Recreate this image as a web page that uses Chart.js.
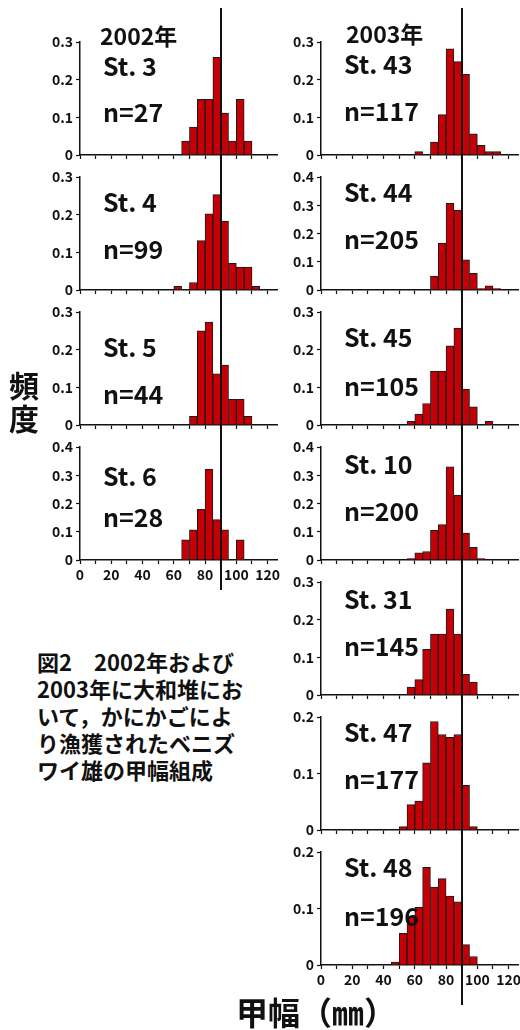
<!DOCTYPE html>
<html>
<head>
<meta charset="utf-8">
<script src="https://cdn.jsdelivr.net/npm/chart.js@4.4.0/dist/chart.umd.min.js"></script>
<style>
  html, body { margin: 0; padding: 0; background: #fff; }
  #fig {
    position: relative; width: 520px; height: 1030px; overflow: hidden; background: #fff;
    font-family: 'Noto Sans CJK JP', sans-serif; font-weight: bold; color: #111;
  }
  #fig canvas { position: absolute; }
  .txt { position: absolute; white-space: nowrap; z-index: 2; }
  .st { font-size: 25px; line-height: 25px; }
  .year { font-size: 23px; line-height: 23px; }
  .caption { font-size: 22px; line-height: 27px; }
  .ytitle { font-size: 30px; line-height: 30px; writing-mode: vertical-rl; letter-spacing: 3px; }
  .xtitle { font-size: 32px; line-height: 32px; }
</style>
</head>
<body>
<div id="fig"></div>
<script>
// 5 mm carapace-width classes (lower edge, mm)
const binStarts = [45, 50, 55, 60, 65, 70, 75, 80, 85, 90, 95, 100, 105, 110];
const xTickValues = [0, 10, 20, 30, 40, 50, 60, 70, 80, 90, 100, 110, 120];
const xTickLabels = ['0', '20', '40', '60', '80', '100', '120'];
const yTicks02 = [0, 0.1, 0.2];
const yTicks03 = [0, 0.1, 0.2, 0.3];
const yTicks04 = [0, 0.1, 0.2, 0.3, 0.4];
const refWidth = 90; // vertical reference line (mm)

// 2002
const st3  = [0, 0, 0, 0, 0.037, 0.074, 0.148, 0.148, 0.259, 0.111, 0.037, 0.148, 0.037, 0];
const st4  = [0, 0, 0, 0.010, 0, 0.020, 0.131, 0.202, 0.253, 0.182, 0.071, 0.061, 0.061, 0.010];
const st5  = [0, 0, 0, 0, 0, 0.023, 0.250, 0.273, 0.136, 0.159, 0.068, 0.068, 0.023, 0];
const st6  = [0, 0, 0, 0, 0.071, 0.107, 0.179, 0.321, 0.143, 0.107, 0, 0.071, 0, 0];
// 2003
const st43 = [0, 0, 0, 0.009, 0, 0.034, 0.107, 0.282, 0.248, 0.214, 0.056, 0.026, 0.009, 0.009];
const st44 = [0, 0, 0, 0, 0, 0.049, 0.166, 0.307, 0.283, 0.107, 0.059, 0.005, 0.015, 0.005];
const st45 = [0, 0, 0.010, 0.029, 0.057, 0.143, 0.143, 0.210, 0.257, 0.095, 0.048, 0, 0.010, 0];
const st10 = [0, 0, 0.005, 0.025, 0.030, 0.105, 0.125, 0.330, 0.230, 0.095, 0.045, 0.005, 0, 0];
const st31 = [0, 0, 0.021, 0.041, 0.121, 0.162, 0.162, 0.228, 0.162, 0.055, 0.034, 0, 0, 0];
const st47 = [0, 0.006, 0.045, 0.051, 0.119, 0.192, 0.169, 0.164, 0.169, 0.079, 0.006, 0, 0, 0];
const st48 = [0.005, 0.056, 0.087, 0.102, 0.173, 0.138, 0.153, 0.122, 0.112, 0.036, 0.015, 0, 0, 0];

const yearLabels = ['2002年', '2003年'];
const captionLines = ['図2　2002年および', '2003年に大和堆にお', 'いて，かにかごによ', 'り漁獲されたベニズ', 'ワイ雄の甲幅組成'];
const yTitle = '頻度';
const xTitle = '甲幅（㎜）';

// panel layout: column, row, series, station, n, y range, label positions
const panels = [
  { col: 0, row: 0, freq: st3,  name: 'St. 3',  n: 27,  yMax: 0.3, yTicks: yTicks03, stY: 57,  nY: 103 },
  { col: 0, row: 1, freq: st4,  name: 'St. 4',  n: 99,  yMax: 0.3, yTicks: yTicks03, stY: 193, nY: 240 },
  { col: 0, row: 2, freq: st5,  name: 'St. 5',  n: 44,  yMax: 0.3, yTicks: yTicks03, stY: 338, nY: 385 },
  { col: 0, row: 3, freq: st6,  name: 'St. 6',  n: 28,  yMax: 0.4, yTicks: yTicks04, stY: 467, nY: 508, showX: true, ext: 30 },
  { col: 1, row: 0, freq: st43, name: 'St. 43', n: 117, yMax: 0.3, yTicks: yTicks03, stY: 55,  nY: 102 },
  { col: 1, row: 1, freq: st44, name: 'St. 44', n: 205, yMax: 0.4, yTicks: yTicks04, stY: 183, nY: 230 },
  { col: 1, row: 2, freq: st45, name: 'St. 45', n: 105, yMax: 0.3, yTicks: yTicks03, stY: 328, nY: 377 },
  { col: 1, row: 3, freq: st10, name: 'St. 10', n: 200, yMax: 0.4, yTicks: yTicks04, stY: 455, nY: 502 },
  { col: 1, row: 4, freq: st31, name: 'St. 31', n: 145, yMax: 0.3, yTicks: yTicks03, stY: 590, nY: 637 },
  { col: 1, row: 5, freq: st47, name: 'St. 47', n: 177, yMax: 0.2, yTicks: yTicks02, stY: 723, nY: 770 },
  { col: 1, row: 6, freq: st48, name: 'St. 48', n: 196, yMax: 0.2, yTicks: yTicks02, stY: 858, nY: 907, showX: true, ext: 40 }
];

Chart.defaults.font.family = "'Noto Sans CJK JP', sans-serif";
Chart.defaults.font.weight = 'bold';
Chart.defaults.color = '#111';

const fig = document.getElementById('fig');

// vertical reference line, drawn through every panel so the column reads as one line
const refLinePlugin = {
  id: 'refLine',
  afterDatasetsDraw(chart, args, opts) {
    const { ctx, chartArea, scales } = chart;
    const px = Math.round(scales.x.getPixelForValue(refWidth));
    ctx.save();
    ctx.strokeStyle = '#111';
    ctx.lineWidth = 2;
    ctx.beginPath();
    ctx.moveTo(px, chartArea.top - 34);
    ctx.lineTo(px, chartArea.bottom + (opts.ext || 0));
    ctx.stroke();
    ctx.restore();
  }
};

function addText(cls, text, left, top) {
  const d = document.createElement('div');
  d.className = 'txt ' + cls;
  d.textContent = text;
  d.style.left = left + 'px';
  d.style.top = top + 'px';
  fig.appendChild(d);
  return d;
}

function makePanel(p) {
  const cv = document.createElement('canvas');
  const left = p.col === 0 ? 40 : 285;
  const width = p.col === 0 ? 245 : 243;
  const axisW = p.col === 0 ? 40 : 36;
  const padR = p.col === 0 ? 8 : 10;
  const top = 6 + 135 * p.row;
  cv.width = width; cv.height = 189;
  cv.style.left = left + 'px'; cv.style.top = top + 'px';
  cv.style.width = width + 'px'; cv.style.height = '189px';
  fig.appendChild(cv);

  const points = binStarts.map((b, i) => ({ x: b + 2.5, y: p.freq[i] > 0 ? p.freq[i] : null }));

  new Chart(cv, {
    type: 'bar',
    data: {
      datasets: [{
        data: points,
        backgroundColor: '#c40006',
        borderColor: '#1a1a1a',
        borderWidth: 1,
        barPercentage: 1,
        categoryPercentage: 1
      }]
    },
    options: {
      responsive: false,
      animation: false,
      devicePixelRatio: 1,
      layout: { padding: { top: 36, right: padR, left: 0, bottom: 0 } },
      plugins: {
        legend: { display: false },
        tooltip: { enabled: false },
        refLine: { ext: p.ext || 0 }
      },
      scales: {
        x: {
          type: 'linear', min: 0, max: 126, offset: false,
          afterBuildTicks: s => { s.ticks = xTickValues.map(v => ({ value: v })); },
          afterFit: s => { s.height = 40; },
          grid: { drawOnChartArea: false, drawTicks: true, tickLength: 4, tickColor: '#111', tickWidth: 1.2, offset: false },
          border: { display: true, color: '#111', width: 1.5 },
          ticks: {
            padding: 2, maxRotation: 0, autoSkip: false,
            font: { size: 14, weight: 'bold' }, color: '#111',
            callback: v => (p.showX && xTickLabels.includes(String(v))) ? String(v) : ''
          }
        },
        y: {
          min: 0, max: p.yMax,
          afterBuildTicks: s => { s.ticks = p.yTicks.map(v => ({ value: v })); },
          afterFit: s => { s.width = axisW; },
          grid: { drawOnChartArea: false, drawTicks: true, tickLength: 4, tickColor: '#111', tickWidth: 1.2 },
          border: { display: true, color: '#111', width: 1.5 },
          ticks: {
            padding: 3, font: { size: 14, weight: 'bold' }, color: '#111',
            callback: v => v === 0 ? '0' : Number(v).toFixed(1)
          }
        }
      }
    },
    plugins: [refLinePlugin]
  });

  const lx = p.col === 0 ? 103 : 344;
  addText('st', p.name, lx, p.stY - 4);
  addText('st', 'n=' + p.n, lx, p.nY - 4);
}

panels.forEach(makePanel);

addText('year', yearLabels[0], 100, 24);
addText('year', yearLabels[1], 346, 22);

const cap = document.createElement('div');
cap.className = 'txt caption';
cap.style.left = '37px';
cap.style.top = '648px';
captionLines.forEach((line, i) => {
  if (i) cap.appendChild(document.createElement('br'));
  cap.appendChild(document.createTextNode(line));
});
fig.appendChild(cap);

addText('ytitle', yTitle, 9, 371);
addText('xtitle', xTitle, 236, 995);
</script>
</body>
</html>
